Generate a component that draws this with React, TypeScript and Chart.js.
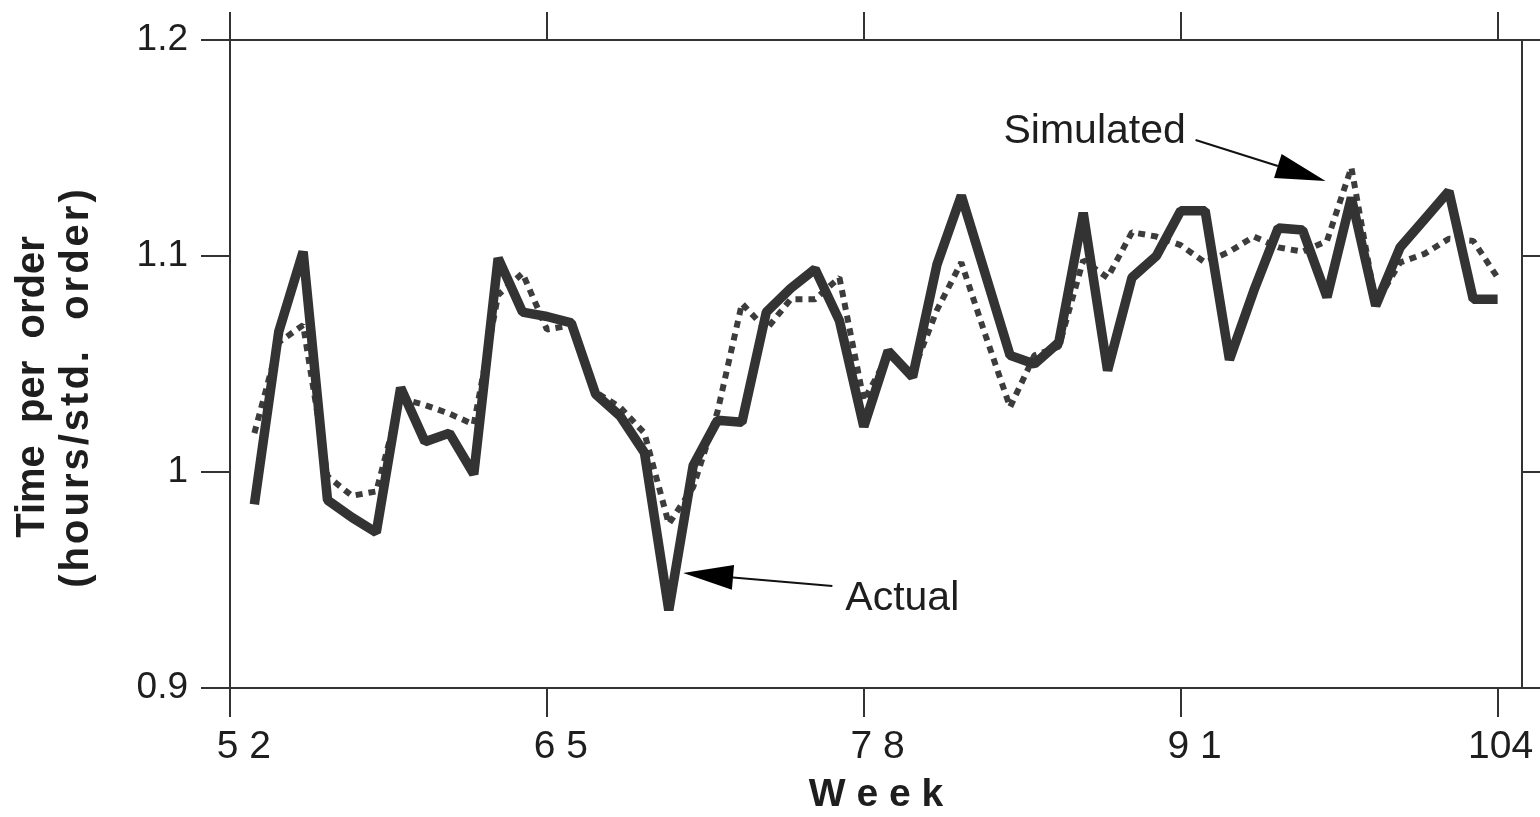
import React, { useEffect, useRef } from 'react';
import { Chart, registerables } from 'chart.js';

Chart.register(...registerables);

const FONT = "'Liberation Sans', Arial, Helvetica, sans-serif";

const weeks = [
  53, 54, 55, 56, 57, 58, 59, 60, 61, 62, 63, 64, 65, 66, 67, 68, 69, 70, 71, 72, 73, 74, 75, 76, 77, 78,
  79, 80, 81, 82, 83, 84, 85, 86, 87, 88, 89, 90, 91, 92, 93, 94, 95, 96, 97, 98, 99, 100, 101, 102, 103, 104,
];

const actual = [
  0.985, 1.065, 1.102, 0.987, 0.979, 0.972, 1.039, 1.014, 1.018, 0.999, 1.099, 1.074, 1.072, 1.069, 1.036,
  1.026, 1.009, 0.936, 1.003, 1.024, 1.023, 1.074, 1.085, 1.094, 1.07, 1.021, 1.056, 1.044, 1.096, 1.128,
  1.091, 1.054, 1.05, 1.06, 1.12, 1.047, 1.09, 1.1, 1.121, 1.121, 1.052, 1.084, 1.113, 1.112, 1.081, 1.127,
  1.077, 1.104, 1.117, 1.13, 1.08, 1.08,
];

const simulated = [
  1.018, 1.06, 1.068, 0.998, 0.989, 0.991, 1.034, 1.031, 1.027, 1.022, 1.082, 1.092, 1.066, 1.068, 1.037,
  1.03, 1.018, 0.976, 0.993, 1.028, 1.078, 1.066, 1.08, 1.08, 1.09, 1.033, 1.054, 1.046, 1.075, 1.097,
  1.063, 1.03, 1.054, 1.058, 1.098, 1.09, 1.111, 1.109, 1.105, 1.097, 1.102, 1.109, 1.104, 1.102, 1.107,
  1.141, 1.078, 1.097, 1.101, 1.108, 1.107, 1.09,
];

const xTicks = [52, 65, 78, 91, 104];
const xTickLabels = ['  5 2', '  6 5', '  7 8', '  9 1', '104'];
const yTicks = [0.9, 1.0, 1.1, 1.2];
const yTickLabels = ['0.9', '1', '1.1', '1.2'];

const xTitle = 'W e e k';
const yTitleLines = ['Time  per  order', '(hours/std.  order)'];

// annotations in data coordinates
const simLabel = { text: 'Simulated', x: 83.73, y: 1.1523 };
const simArrow = { x0: 91.61, y0: 1.1537, x1: 96.94, y1: 1.1347 };
const actLabel = { text: 'Actual', x: 77.24, y: 0.9361 };
const actArrow = { x0: 76.71, y0: 0.9472, x1: 70.59, y1: 0.9532 };

const INK = '#333333';
const TEXT = '#1e1e1e';

function labelFor(list: number[], labels: string[], v: number) {
  const i = list.findIndex((t) => Math.abs(t - v) < 1e-6);
  return i >= 0 ? labels[i] : '';
}

function drawArrow(ctx: CanvasRenderingContext2D, x0: number, y0: number, x1: number, y1: number) {
  const dx = x1 - x0;
  const dy = y1 - y0;
  const len = Math.hypot(dx, dy);
  const ux = dx / len;
  const uy = dy / len;
  const headLen = 50;
  const half = 12.5;
  const bx = x1 - ux * headLen;
  const by = y1 - uy * headLen;
  ctx.save();
  ctx.strokeStyle = '#111';
  ctx.lineWidth = 2;
  ctx.beginPath();
  ctx.moveTo(x0, y0);
  ctx.lineTo(bx, by);
  ctx.stroke();
  ctx.fillStyle = '#000';
  ctx.beginPath();
  ctx.moveTo(x1, y1);
  ctx.lineTo(bx - uy * half, by + ux * half);
  ctx.lineTo(bx + uy * half, by - ux * half);
  ctx.closePath();
  ctx.fill();
  ctx.restore();
}

const annotationPlugin = {
  id: 'annotations',
  afterDraw(chart: any) {
    const { ctx, scales } = chart;
    const xs = scales.x;
    const ys = scales.y;
    ctx.save();
    ctx.fillStyle = TEXT;
    ctx.font = `41px ${FONT}`;
    ctx.textAlign = 'left';
    ctx.textBaseline = 'alphabetic';
    ctx.fillText(simLabel.text, xs.getPixelForValue(simLabel.x), ys.getPixelForValue(simLabel.y));
    ctx.fillText(actLabel.text, xs.getPixelForValue(actLabel.x), ys.getPixelForValue(actLabel.y));
    drawArrow(
      ctx,
      xs.getPixelForValue(simArrow.x0),
      ys.getPixelForValue(simArrow.y0),
      xs.getPixelForValue(simArrow.x1),
      ys.getPixelForValue(simArrow.y1)
    );
    drawArrow(
      ctx,
      xs.getPixelForValue(actArrow.x0),
      ys.getPixelForValue(actArrow.y0),
      xs.getPixelForValue(actArrow.x1),
      ys.getPixelForValue(actArrow.y1)
    );

    // y axis title (two lines, rotated)
    const area = chart.chartArea;
    const cy = (area.top + area.bottom) / 2 + 23;
    ctx.font = `bold 40px ${FONT}`;
    ctx.textAlign = 'center';
    ctx.textBaseline = 'middle';
    ctx.translate(0, cy);
    ctx.rotate(-Math.PI / 2);
    (ctx as any).letterSpacing = '0px';
    ctx.fillText(yTitleLines[0], 0, 33);
    (ctx as any).letterSpacing = '3px';
    ctx.fillText(yTitleLines[1], 0, 77);
    ctx.restore();
  },
};

export default function App() {
  const canvasRef = useRef<HTMLCanvasElement | null>(null);

  useEffect(() => {
    const canvas = canvasRef.current;
    if (!canvas) return;
    Chart.defaults.font.family = FONT;

    const gridCommon = {
      drawOnChartArea: false,
      drawTicks: true,
      color: INK,
      lineWidth: 2,
    };
    const borderCommon = { display: true, color: INK, width: 2 };
    const setX = (s: any) => {
      s.ticks = xTicks.map((v) => ({ value: v }));
    };
    const setY = (s: any) => {
      s.ticks = yTicks.map((v) => ({ value: v }));
    };

    const chart = new Chart(canvas, {
      type: 'line',
      data: {
        datasets: [
          {
            label: 'Actual',
            data: weeks.map((w, i) => ({ x: w, y: actual[i] })),
            borderColor: INK,
            borderWidth: 9.5,
            pointRadius: 0,
            tension: 0,
            fill: false,
            borderJoinStyle: 'bevel',
            borderCapStyle: 'butt',
          },
          {
            label: 'Simulated',
            data: weeks.map((w, i) => ({ x: w, y: simulated[i] })),
            borderColor: '#3c3c3c',
            borderWidth: 6,
            borderDash: [7, 6],
            pointRadius: 0,
            tension: 0,
            fill: false,
            borderJoinStyle: 'bevel',
            borderCapStyle: 'butt',
          },
        ],
      },
      options: {
        responsive: false,
        animation: false,
        layout: { padding: 0 },
        plugins: {
          legend: { display: false },
          tooltip: { enabled: false },
        },
        scales: {
          x: {
            type: 'linear',
            position: 'bottom',
            min: 52,
            max: 105,
            afterBuildTicks: setX,
            afterFit: (s: any) => {
              s.height = 129;
            },
            ticks: {
              autoSkip: false,
              maxRotation: 0,
              padding: 7,
              labelOffset: 3,
              color: TEXT,
              font: { size: 39 },
              callback: (v: any) => labelFor(xTicks, xTickLabels, Number(v)),
            },
            grid: { ...gridCommon, tickLength: 29 },
            border: borderCommon,
            title: {
              display: true,
              text: xTitle,
              color: TEXT,
              font: { size: 39, weight: 'bold', lineHeight: 1 },
              padding: { top: 0, bottom: 2 },
            },
          },
          xTop: {
            type: 'linear',
            position: 'top',
            min: 52,
            max: 105,
            afterBuildTicks: setX,
            afterFit: (s: any) => {
              s.height = 40;
            },
            ticks: { display: false },
            grid: { ...gridCommon, tickLength: 28 },
            border: borderCommon,
          },
          y: {
            type: 'linear',
            position: 'left',
            min: 0.9,
            max: 1.2,
            afterBuildTicks: setY,
            afterFit: (s: any) => {
              s.width = 230;
            },
            ticks: {
              padding: 13,
              color: TEXT,
              font: { size: 37 },
              callback: (v: any) => labelFor(yTicks, yTickLabels, Number(v)),
            },
            grid: { ...gridCommon, tickLength: 29 },
            border: borderCommon,
          },
          yRight: {
            type: 'linear',
            position: 'right',
            min: 0.9,
            max: 1.2,
            afterBuildTicks: setY,
            afterFit: (s: any) => {
              s.width = 18;
            },
            ticks: { display: false },
            grid: { ...gridCommon, tickLength: 20 },
            border: borderCommon,
          },
        },
      },
      plugins: [annotationPlugin],
    } as any);

    return () => {
      chart.destroy();
    };
  }, []);

  return (
    <div style={{ position: 'fixed', left: 0, top: 0, width: 1540, height: 817, background: '#fff' }}>
      <canvas ref={canvasRef} width={1540} height={817} style={{ display: 'block' }} />
    </div>
  );
}
